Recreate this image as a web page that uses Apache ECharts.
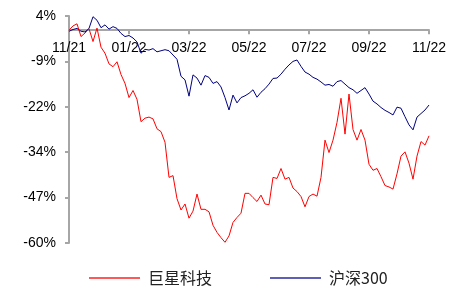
<!DOCTYPE html>
<html>
<head>
<meta charset="utf-8">
<script src="https://cdn.jsdelivr.net/npm/echarts@6/dist/echarts.min.js"></script>
<style>
  html, body { margin: 0; padding: 0; background: #fff; }
  #chart { width: 463px; height: 289px; }
</style>
</head>
<body>
<div id="chart"></div>
<script>
// 巨星科技 vs 沪深300 相对收益 (%), 2021/11 - 2022/11
var tickLabels = ['11/21', '01/22', '03/22', '05/22', '07/22', '09/22', '11/22'];

var jxValues = [
  0, 1.2, 1.8, -1.8, -0.8, 0.4, -3.2, 0.6, -4.8, -6.5,
  -9.5, -10.3, -8.9, -12.5, -15.0, -19.0, -17.0, -19.5, -25.8, -24.8,
  -24.5, -25.0, -27.8, -28.6, -31.6, -41.5, -41.0, -47.5, -50.7, -49.0,
  -53.0, -51.0, -46.2, -50.5, -50.5, -51.2, -55.0, -57.0, -58.5, -59.8,
  -58.0, -54.2, -52.8, -51.6, -46.0, -46.0, -47.2, -48.3, -46.5, -49.0,
  -49.2, -41.5, -41.8, -39.0, -42.0, -41.5, -44.5, -45.5, -46.9, -49.8,
  -46.9, -46.2, -46.8, -41.5, -31.0, -34.5, -31.0, -26.0, -19.2, -29.3,
  -18.0, -28.0, -31.0, -28.0, -31.0, -37.8, -39.5, -39.0, -41.3, -43.8,
  -44.2, -44.8, -40.5, -35.5, -34.3, -37.5, -42.0, -35.5, -31.4, -32.4,
  -29.8
];

var hs300Values = [
  -0.3, 0.2, 0.5, -0.3, -0.5, 0.5, 3.8, 2.8, 0.7, 1.5,
  0.3, 1.0, 0.5, -0.9, -1.8, -1.5, -2.2, -3.3, -6.5, -5.4,
  -5.6, -5.2, -6.1, -5.8, -5.5, -5.8, -7.0, -8.2, -13.0, -14.0,
  -18.6, -12.6, -13.5, -15.5, -12.8, -13.3, -15.0, -14.5, -16.0, -19.0,
  -22.5, -18.3, -20.5, -19.0, -18.5, -17.8, -16.8, -18.9, -17.5, -16.5,
  -15.2, -13.6, -13.5, -12.4, -11.0, -9.8, -8.8, -8.4, -10.2, -11.8,
  -12.4, -13.3, -13.8, -14.6, -15.5, -15.3, -15.8, -14.5, -14.2, -15.2,
  -16.2, -16.8, -17.8, -17.0, -16.2, -18.0, -20.0, -20.8, -21.8, -22.6,
  -23.2, -23.9, -21.7, -22.0, -24.4, -26.7, -28.1, -24.5, -23.5, -22.5,
  -21.1
];

var yMin = -60, yMax = 4;
var step = (jxValues.length - 1) / (tickLabels.length - 1);
var categories = jxValues.map(function (v, i) {
  return i % step === 0 ? tickLabels[i / step] : '';
});

var font = "'Liberation Sans', Arial, 'Noto Sans CJK SC'";
var axisColor = '#a6a6a6';
var gridTop = 16, gridBottom = 46, chartH = 289;
// x axis sits at the 0% line: shift it down from the top of the grid
var zeroOffset = (chartH - gridTop - gridBottom) * yMax / (yMax - yMin);

var chart = echarts.init(document.getElementById('chart'));
chart.setOption({
  animation: false,
  textStyle: { fontFamily: font },
  grid: { left: 69, right: 34, top: gridTop, bottom: gridBottom },
  legend: {
    bottom: -2,
    left: 84,
    icon: 'rect',
    itemWidth: 51,
    itemHeight: 1.5,
    itemGap: 58,
    textStyle: {
      fontSize: 16,
      color: '#222',
      padding: [0, 0, 0, 3],
      fontFamily: "'Noto Sans CJK SC', 'Liberation Sans'"
    },
    data: ['巨星科技', '沪深300']
  },
  xAxis: {
    type: 'category',
    data: categories,
    boundaryGap: false,
    position: 'top',
    offset: -zeroOffset,
    axisLine: { onZero: false, lineStyle: { color: axisColor, width: 2 } },
    axisTick: { inside: true, interval: step - 1, length: 4, lineStyle: { color: axisColor, width: 2 } },
    axisLabel: { inside: true, interval: step - 1, color: '#000', fontSize: 14, margin: 11 },
    splitLine: { show: false }
  },
  yAxis: {
    type: 'value',
    min: yMin,
    max: yMax,
    interval: 12.8,
    axisLine: { show: true, lineStyle: { color: axisColor, width: 2 } },
    axisTick: { show: true, length: 4, lineStyle: { color: axisColor, width: 2 } },
    axisLabel: {
      color: '#000',
      fontSize: 14,
      margin: 13,
      formatter: function (v) { return Math.round(v) + '%'; }
    },
    splitLine: { show: false }
  },
  series: [
    {
      name: '巨星科技',
      type: 'line',
      data: jxValues,
      symbol: 'none',
      lineStyle: { color: '#ff0000', width: 1 },
      itemStyle: { color: '#ff2020' },
      z: 3
    },
    {
      name: '沪深300',
      type: 'line',
      data: hs300Values,
      symbol: 'none',
      lineStyle: { color: '#000080', width: 1 },
      itemStyle: { color: '#2a2aa0' },
      z: 2
    }
  ]
});
</script>
</body>
</html>
